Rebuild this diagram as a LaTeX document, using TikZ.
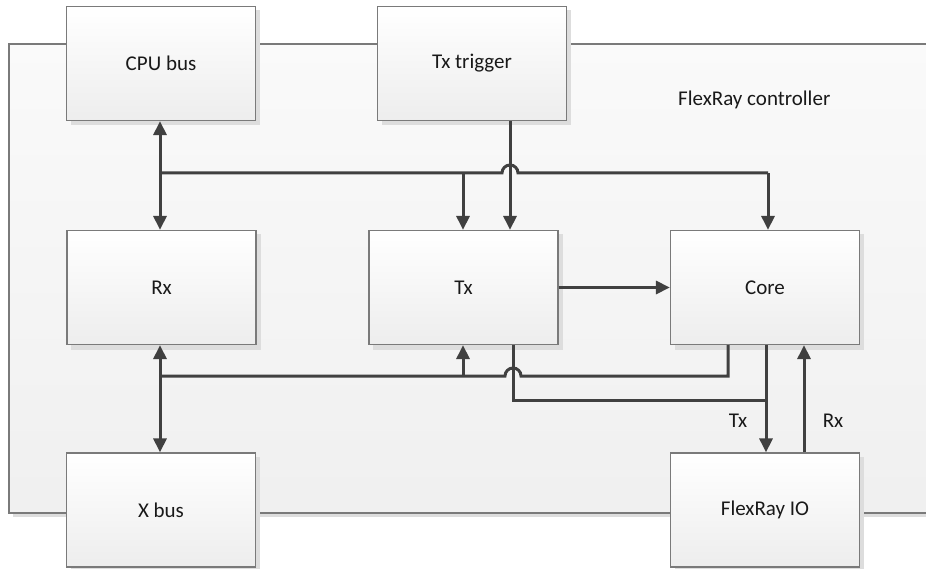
\documentclass[tikz,border=0pt]{standalone}
\usepackage{fontspec}
\setmainfont{Carlito}
\usetikzlibrary{arrows.meta,calc}
\definecolor{linec}{HTML}{404040}
\definecolor{boxborder}{HTML}{7A7A7A}
\definecolor{shadowc}{HTML}{DDDDDD}
\tikzset{
  blk/.style={draw=boxborder, line width=1.2pt, top color=white, bottom color=black!7,
    minimum width=189pt, minimum height=114pt, inner sep=0pt,
    font=\fontsize{21}{25}\selectfont, text=black!90},
  shad/.style={fill=shadowc, draw=none},
  conn/.style={draw=linec, line width=3pt, line join=miter},
  tip/.style={-{Triangle[length=14pt,width=13pt]}},
  dtip/.style={{Triangle[length=14pt,width=13pt]}-{Triangle[length=14pt,width=13pt]}},
  lbl/.style={font=\fontsize{21}{25}\selectfont, text=black!90, inner sep=0pt}
}
\begin{document}
\begin{tikzpicture}[x=1pt,y=-1pt]
\useasboundingbox (0,0) rectangle (926,569);
% controller
\fill[shadowc] (13,48) rectangle (930,517);
\shade[top color=black!2, bottom color=black!6] (9,44) rectangle (930,513);
\draw[boxborder, line width=1.2pt] (930,44) -- (9,44) -- (9,513) -- (930,513);
\node[lbl, anchor=base west] (ctl) at (678,106) {FlexRay controller};
% shadows
\foreach \cx/\cy in {161/63.5, 472/63.5, 161.5/287.5, 463.5/287.5, 765/287.5, 161/510, 765/510}
  \fill[shadowc] (\cx-90.5,\cy-53) rectangle (\cx+99,\cy+62);
% blocks
\node[blk] (cpu) at (161,63.5) {CPU bus};
\node[blk] (trig) at (472,63.5) {Tx trigger};
\node[blk] (rx) at (161.5,287.5) {Rx};
\node[blk] (tx) at (463.5,287.5) {Tx};
\node[blk] (core) at (765,287.5) {Core};
\node[blk] (xbus) at (161,510) {X bus};
\node[blk] (fio) at (765,510) {FlexRay IO};
% coordinates
\coordinate (a1) at (160,173);
\coordinate (a2) at (463,173);
\coordinate (a3) at (768,173);
\coordinate (b1) at (160,376);
\coordinate (b2) at (463,376);
\coordinate (b3) at (728,376);
\coordinate (c1) at (513,400);
\coordinate (c2) at (766,400);
% top bus
\draw[conn, dtip] (cpu.south -| a1) -- (rx.north -| a1);
\draw[conn] (a1) -- (502,173) arc[start angle=180, end angle=360, radius=8] -- (a3);
\draw[conn, tip] (a3) -- (core.north -| a3);
\draw[conn, tip] (a2) -- (tx.north -| a2);
\draw[conn, tip] (trig.south -| 510,0) -- (tx.north -| 510,0);
% Tx -> Core
\draw[conn, tip] (tx.east) -- (core.west);
% bottom bus
\draw[conn, dtip] (rx.south -| b1) -- (xbus.north -| b1);
\draw[conn] (b1) -- (505,376) arc[start angle=180, end angle=360, radius=8] -- (b3) -- (core.south -| b3);
\draw[conn, tip] (b2) -- (tx.south -| b2);
\draw[conn] (tx.south -| c1) -- (c1) -- (c2);
\draw[conn, tip] (core.south -| c2) -- (fio.north -| c2);
\draw[conn, tip] (fio.north -| 804,0) -- (core.south -| 804,0);
\node[lbl] (ltx) at (738,421) {Tx};
\node[lbl] (lrx) at (833,421) {Rx};
\end{tikzpicture}
\end{document}
